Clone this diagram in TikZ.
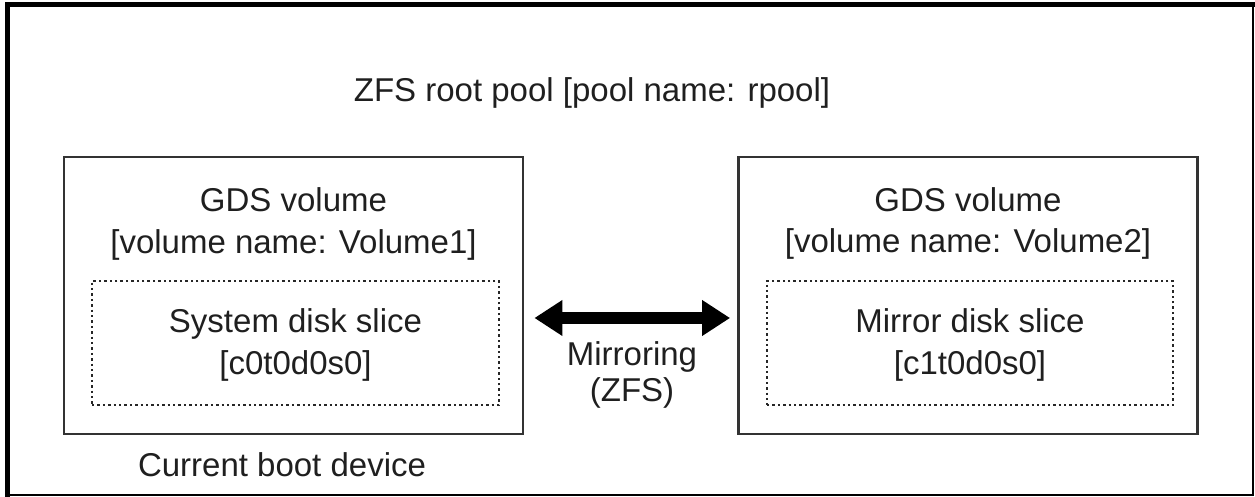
\documentclass[tikz,border=0pt]{standalone}
\usepackage{fontspec}
\setmainfont{Liberation Sans}
\usetikzlibrary{arrows.meta}
\begin{document}
\begin{tikzpicture}[x=0.5pt,y=-0.5pt,
  txt/.style={inner sep=0pt, outer sep=0pt, font=\fontsize{16.5pt}{20pt}\selectfont, text=black!88},
  volbox/.style={draw=black!80, line width=1.4pt, minimum width=229.5pt, minimum height=138.5pt, inner sep=0pt},
  slicebox/.style={draw=black!85, line width=1.2pt, dash pattern=on 1.2pt off 1.5pt, minimum height=62pt, inner sep=0pt},
  mirrorarrow/.style={line width=6pt, {Triangle[length=14pt,width=17pt]}-{Triangle[length=14pt,width=17pt]}}
]
\useasboundingbox (0,0) rectangle (1255,497);
% outer frame
\draw[line width=1pt] (7,5) rectangle (1253,495);
\draw[line width=2.5pt, line cap=rect] (7.5,496) -- (7.5,4.5) -- (1254,4.5);

\node[txt, anchor=base] (title) at (592,102) {ZFS root pool [pool name: rpool]};

\node[volbox] (lbox) at (293.5,295.5) {};
\node[volbox] (rbox) at (968,295.5) {};

\node[slicebox, minimum width=203.5pt] (lslice) at (295.5,343) {};
\node[slicebox, minimum width=203pt] (rslice) at (970,343) {};

\node[txt, anchor=base] (lgds) at (293.5,212) {GDS volume};
\node[txt, anchor=base] (lvol) at (293.5,254) {[volume name: Volume1]};
\node[txt, anchor=base] (rgds) at (968,212) {GDS volume};
\node[txt, anchor=base] (rvol) at (968,253) {[volume name: Volume2]};

\node[txt, anchor=base] (lsl) at (295.5,333) {System disk slice};
\node[txt, anchor=base] (lsn) at (295.5,375) {[c0t0d0s0]};
\node[txt, anchor=base] (rsl) at (970,333) {Mirror disk slice};
\node[txt, anchor=base] (rsn) at (970,375) {[c1t0d0s0]};

\node[txt, anchor=base] (mir) at (632,366) {Mirroring};
\node[txt, anchor=base] (zfs) at (632,402) {(ZFS)};

\node[txt, anchor=base west] (boot) at (138,477) {Current boot device};

\draw[mirrorarrow] ([xshift=5pt,yshift=-11.25pt]lbox.east) -- ([xshift=-3.5pt,yshift=-11.25pt]rbox.west);
\end{tikzpicture}
\end{document}
